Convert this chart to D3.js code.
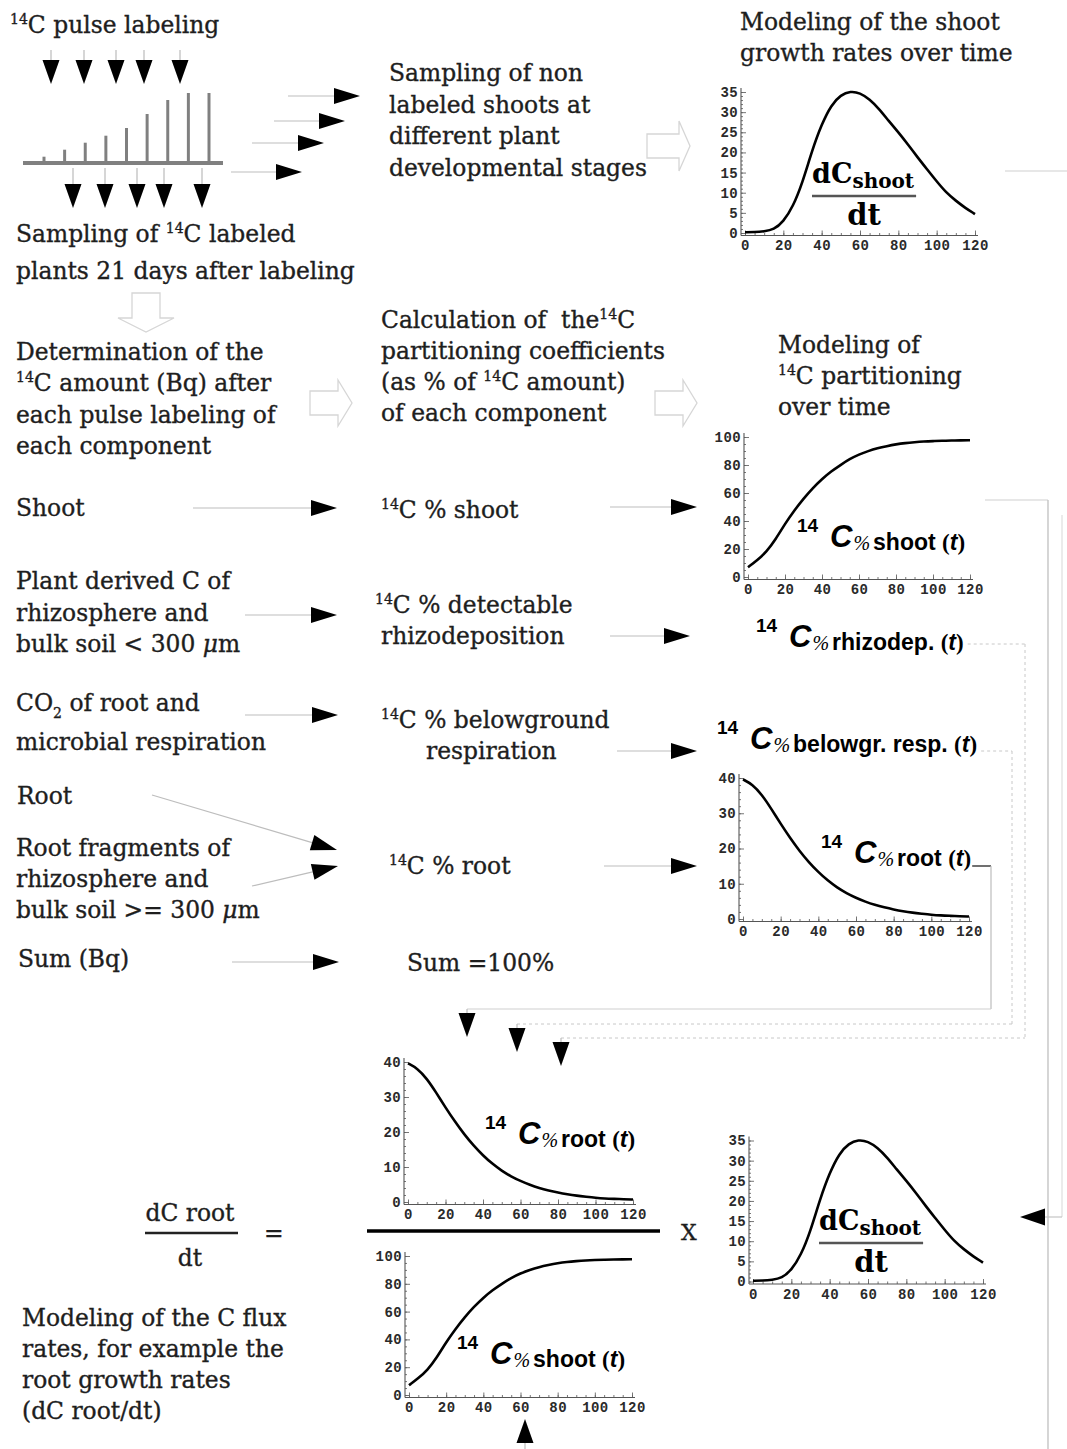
<!DOCTYPE html>
<html>
<head>
<meta charset="utf-8">
<script src="https://cdn.jsdelivr.net/npm/d3@7"></script>
<style>
  body { margin: 0; background: #fff; }
  svg { display: block; }
  text { white-space: pre; }
</style>
</head>
<body>
<script>
// ---- model curves: time in days, value sampled every 5 days ----
const days = d3.range(0, 121, 5);
// shoot growth rate dC_shoot/dt
const shootGrowthRate = [0.2, 0.2, 0.4, 0.8, 2.8, 6.5, 12.5, 20.5, 27, 31.8, 34.3, 35.2, 34.8,
                         33.2, 30.8, 27.8, 25, 22, 18.8, 15.8, 12.8, 10, 8, 6.2, 4.7];
// 14C partitioning to the shoot (%)
const shootPartition = [7, 12, 18, 27, 38, 47.5, 56, 63.5, 70, 75.5, 80, 84.3, 87.5,
                        90, 92, 93.5, 94.8, 95.7, 96.3, 96.8, 97.1, 97.3, 97.5, 97.6, 97.7];
// 14C partitioning to the root (%)
const rootPartition = [39.6, 38.2, 35.3, 31.3, 27, 23, 19.3, 16.1, 13.3, 10.9, 8.9, 7.3, 6,
                       4.9, 4, 3.3, 2.7, 2.2, 1.8, 1.5, 1.2, 1.0, 0.9, 0.8, 0.7];
// relative 14C signal of the successive pulse labelings (pictogram)
const pulseSignal = [0.9, 1.9, 2.9, 3.9, 5, 7, 9, 10, 10];

// ---- tick labels ----
const timeTicks = [0, 20, 40, 60, 80, 100, 120];
const growthTicks = [0, 5, 10, 15, 20, 25, 30, 35];
const partitionTicks = [0, 20, 40, 60, 80, 100];
const rootTicks = [0, 10, 20, 30, 40];

const W = 1067, H = 1449;
const SERIF = "'DejaVu Serif', serif";
const SANS = "'Liberation Sans', Arial, sans-serif";
const MONO = "'Liberation Mono', 'Courier New', monospace";
const INK = "#1e1e1e";

const svg = d3.select("body").append("svg").attr("width", W).attr("height", H);
svg.append("rect").attr("width", W).attr("height", H).attr("fill", "#fff");
const root = svg.append("g");

// ---------- text helpers ----------
function rich(x, y, segs, opts = {}) {
  const size = opts.size || 23.4;
  const t = root.append("text").attr("x", x).attr("y", y)
    .attr("font-family", opts.family || SERIF).attr("font-size", size)
    .attr("font-weight", opts.weight || "normal").attr("fill", opts.fill || INK)
    .attr("stroke", opts.fill || INK).attr("stroke-width", 0.35);
  let shift = 0;
  segs.forEach(s => {
    const seg = typeof s === "string" ? { t: s } : s;
    let target = 0, fs = size;
    if (seg.sup) { target = -size * 0.4; fs = size * 0.6; }
    if (seg.sub) { target = size * 0.32; fs = size * 0.6; }
    const sp = t.append("tspan").attr("dy", target - shift).attr("font-size", fs).text(seg.t);
    if (seg.it) sp.attr("font-style", "italic");
    shift = target;
  });
  return t;
}
function lines(x, y0, step, arr, opts) {
  arr.forEach((segs, i) => rich(x, y0 + i * step, segs, opts));
}

// ---------- arrows ----------
function arrow(x1, y1, x2, y2, opts = {}) {
  // thin grey stem ending in a solid black head at (x2, y2)
  const len = opts.head || 26, half = opts.half || 8;
  const a = Math.atan2(y2 - y1, x2 - x1);
  const bx = x2 - len * Math.cos(a), by = y2 - len * Math.sin(a);
  root.append("line").attr("x1", x1).attr("y1", y1).attr("x2", bx).attr("y2", by)
    .attr("stroke", opts.stem || "#bdbdbd").attr("stroke-width", 1.2)
    .attr("stroke-dasharray", opts.dash || null);
  const px = -Math.sin(a) * half, py = Math.cos(a) * half;
  root.append("path")
    .attr("d", `M${x2},${y2}L${bx + px},${by + py}L${bx - px},${by - py}Z`)
    .attr("fill", "#000");
}
function blockArrow(x, y, dir, bodyLen, bodyHalf, headLen, headHalf) {
  // hollow outline arrow; dir "right" or "down", (x,y) = tail centre
  let pts;
  if (dir === "right") {
    pts = [[x, y - bodyHalf], [x + bodyLen, y - bodyHalf], [x + bodyLen, y - headHalf],
           [x + bodyLen + headLen, y], [x + bodyLen, y + headHalf], [x + bodyLen, y + bodyHalf], [x, y + bodyHalf]];
  } else {
    pts = [[x - bodyHalf, y], [x - bodyHalf, y + bodyLen], [x - headHalf, y + bodyLen],
           [x, y + bodyLen + headLen], [x + headHalf, y + bodyLen], [x + bodyHalf, y + bodyLen], [x + bodyHalf, y]];
  }
  root.append("path").attr("d", d3.line()(pts) + "Z")
    .attr("fill", "none").attr("stroke", "#d6d6d6").attr("stroke-width", 1.3);
}
function rule(x1, y1, x2, y2, color = "#c4c4c4", w = 1.2, dash = null) {
  root.append("line").attr("x1", x1).attr("y1", y1).attr("x2", x2).attr("y2", y2)
    .attr("stroke", color).attr("stroke-width", w).attr("stroke-dasharray", dash);
}

// ---------- plot panels ----------
function panel(cfg) {
  const x = d3.scaleLinear().domain([0, 120]).range([cfg.x0, cfg.x1]);
  const y = d3.scaleLinear().domain([0, cfg.yMax]).range([cfg.yBase, cfg.yTop]);
  const axX = cfg.x0 - 4, axY = cfg.yBase + 2.5;
  const g = root.append("g");

  // minor ticks
  g.append("g").attr("transform", `translate(0,${axY})`)
    .call(d3.axisBottom(x).tickValues(d3.range(0, 121, 5)).tickSize(-2.5).tickFormat(""))
    .call(s => s.select(".domain").remove());
  g.append("g").attr("transform", `translate(${axX},0)`)
    .call(d3.axisLeft(y).tickValues(d3.range(0, cfg.yMax + 0.01, cfg.minor)).tickSize(-2).tickFormat(""))
    .call(s => s.select(".domain").remove());
  // major ticks + labels
  const bx = g.append("g").attr("transform", `translate(0,${axY})`)
    .call(d3.axisBottom(x).tickValues(timeTicks).tickSize(-5).tickPadding(5));
  const by = g.append("g").attr("transform", `translate(${axX},0)`)
    .call(d3.axisLeft(y).tickValues(cfg.ticks).tickSize(-5).tickPadding(3));
  [bx, by].forEach(a => {
    a.select(".domain").remove();
    a.selectAll("text").attr("font-family", MONO).attr("font-size", 14).attr("font-weight", "bold")
      .attr("letter-spacing", 0.4).attr("fill", "#2a2a2a");
  });
  g.selectAll(".tick line").attr("stroke", "#666").attr("stroke-width", 0.9);
  // axis lines
  g.append("line").attr("x1", axX).attr("x2", cfg.x1 + 3).attr("y1", axY).attr("y2", axY)
    .attr("stroke", "#555").attr("stroke-width", 1.1);
  g.append("line").attr("x1", axX).attr("x2", axX).attr("y1", axY).attr("y2", cfg.yTop - 4)
    .attr("stroke", "#555").attr("stroke-width", 1.1);

  g.append("path").datum(cfg.values)
    .attr("d", d3.line().x((d, i) => x(days[i])).y(d => y(d)).curve(d3.curveBasis))
    .attr("fill", "none").attr("stroke", "#000").attr("stroke-width", 2.6);
  return { x, y };
}

function fractionLabel(x, y) {
  // dC_shoot / dt ; (x, y) = left / baseline of "dC"
  const num = root.append("text").attr("x", x).attr("y", y)
    .attr("font-family", SERIF).attr("font-weight", "bold").attr("fill", "#000");
  num.append("tspan").attr("font-size", 27).text("dC");
  num.append("tspan").attr("font-size", 20).attr("dy", 5).text("shoot");
  const w = num.node().getComputedTextLength();
  root.append("line").attr("x1", x).attr("x2", x + w + 2).attr("y1", y + 13).attr("y2", y + 13)
    .attr("stroke", "#555").attr("stroke-width", 2.6);
  root.append("text").attr("x", x + (w + 2) / 2).attr("y", y + 42).attr("text-anchor", "middle")
    .attr("font-family", SERIF).attr("font-weight", "bold").attr("font-size", 29)
    .attr("fill", "#000").text("dt");
}

function partitionLabel(x, y, name) {
  // "14 C% name (t)" ; x = left of "14", y = baseline of the name
  root.append("text").attr("x", x).attr("y", y - 18).attr("font-family", SANS)
    .attr("font-weight", "bold").attr("font-size", 19).attr("fill", "#000").text("14");
  const c = root.append("text").attr("x", x + 33).attr("y", y - 3).attr("font-family", SANS)
    .attr("font-weight", "bold").attr("font-style", "italic").attr("font-size", 31)
    .attr("fill", "#000").text("C");
  let cx = x + 33 + c.node().getComputedTextLength() + 1;
  const pc = root.append("text").attr("x", cx).attr("y", y).attr("font-family", "'Liberation Serif', serif")
    .attr("font-style", "italic").attr("font-size", 20).attr("fill", "#000").text("%");
  cx += pc.node().getComputedTextLength() + 3;
  const nm = root.append("text").attr("x", cx).attr("y", y).attr("font-family", SANS)
    .attr("font-weight", "bold").attr("font-size", 23).attr("fill", "#000");
  nm.append("tspan").text(name + " ");
  nm.append("tspan").attr("font-family", "'Liberation Serif', serif").text("(");
  nm.append("tspan").attr("font-style", "italic").text("t");
  nm.append("tspan").attr("font-family", "'Liberation Serif', serif").text(")");
  return cx + nm.node().getComputedTextLength();
}

// ================= top left: pulse labelling pictogram =================
rich(10, 33, [{ t: "14", sup: true }, "C pulse labeling"]);
[51, 84, 116, 144, 180].forEach(cx => arrow(cx, 50, cx, 84, { head: 24, half: 8.5, stem: "#bbb" }));
const pulseX = d3.scalePoint().domain(d3.range(pulseSignal.length)).range([44, 209]);
const pulseY = d3.scaleLinear().domain([0, 10]).range([163, 93]);
root.append("g").selectAll("line").data(pulseSignal).join("line")
  .attr("x1", (d, i) => pulseX(i)).attr("x2", (d, i) => pulseX(i))
  .attr("y1", 163).attr("y2", d => pulseY(d))
  .attr("stroke", "#808080").attr("stroke-width", 3);
rule(23, 163, 223, 163, "#808080", 4);
[73, 105, 137, 164, 202].forEach(cx => arrow(cx, 168, cx, 208, { head: 24, half: 8.5, stem: "#bbb" }));
rich(16, 242, ["Sampling of ", { t: "14", sup: true }, "C labeled"]);
rich(16, 279, ["plants 21 days after labeling"]);

arrow(288, 96, 360, 96);
arrow(274, 121, 345, 121);
arrow(252, 143, 324, 143);
arrow(231, 172, 302, 172);

lines(389, 81, 31.7, [["Sampling of non"], ["labeled shoots at"], ["different plant"], ["developmental stages"]]);
blockArrow(647, 146, "right", 32, 12, 11, 25);

lines(740, 30, 31, [["Modeling of the shoot"], ["growth rates over time"]]);
panel({ x0: 745, x1: 975, yBase: 233, yTop: 92, yMax: 35, ticks: growthTicks, minor: 1, values: shootGrowthRate });
fractionLabel(812, 183);
rule(1005, 171, 1067, 171, "#cfcfcf");

// ================= second band =================
blockArrow(146, 293, "down", 25, 14, 14, 28);
lines(16, 360, 31.3, [["Determination of the"], [{ t: "14", sup: true }, "C amount (Bq) after"],
  ["each pulse labeling of"], ["each component"]]);
blockArrow(310, 403, "right", 28, 12, 14, 23);
lines(381, 328, 31, [["Calculation of  the", { t: "14", sup: true }, "C"], ["partitioning coefficients"],
  ["(as % of ", { t: "14", sup: true }, "C amount)"], ["of each component"]]);
blockArrow(655, 403, "right", 28, 12, 14, 23);
lines(778, 353, 31, [["Modeling of"], [{ t: "14", sup: true }, "C partitioning"], ["over time"]]);

// ================= components =================
rich(16, 516, ["Shoot"]);
lines(16, 589, 31.5, [["Plant derived C of"], ["rhizosphere and"], ["bulk soil < 300 ", { t: "\u03bc", it: true }, "m"]]);
rich(16, 711, ["CO", { t: "2", sub: true }, " of root and"]);
rich(16, 750, ["microbial respiration"]);
rich(17, 804, ["Root"]);
lines(16, 856, 31, [["Root fragments of"], ["rhizosphere and"], ["bulk soil >= 300 ", { t: "\u03bc", it: true }, "m"]]);
rich(18, 967, ["Sum (Bq)"]);

arrow(193, 508, 337, 508);
arrow(245, 615, 337, 615);
arrow(245, 715, 338, 715);
arrow(152, 795, 337, 850);
arrow(252, 886, 338, 866);
arrow(232, 962, 339, 962);

rich(381, 518, [{ t: "14", sup: true }, "C % shoot"]);
rich(375, 613, [{ t: "14", sup: true }, "C % detectable"]);
rich(381, 644, ["rhizodeposition"]);
rich(381, 728, [{ t: "14", sup: true }, "C % belowground"]);
rich(426, 759, ["respiration"]);
rich(389, 874, [{ t: "14", sup: true }, "C % root"]);
rich(407, 971, ["Sum =100%"]);

arrow(610, 507, 697, 507);
arrow(610, 636, 690, 636);
arrow(617, 751, 697, 751);
arrow(604, 866, 697, 866);

// ================= partitioning models =================
panel({ x0: 748, x1: 970, yBase: 577, yTop: 437, yMax: 100, ticks: partitionTicks, minor: 5, values: shootPartition });
partitionLabel(797, 550, "shoot");
const rhizEnd = partitionLabel(756, 650, "rhizodep.");
const respEnd = partitionLabel(717, 752, "belowgr. resp.");
panel({ x0: 743, x1: 969, yBase: 919, yTop: 778, yMax: 40, ticks: rootTicks, minor: 2, values: rootPartition });
const rootEnd = partitionLabel(821, 866, "root");

// connectors from the partition models to the flux calculation
rule(rhizEnd + 4, 644, 1025, 644, "#c8c8c8", 1, "3,3");
rule(1025, 644, 1025, 1038, "#c8c8c8", 1, "3,3");
rule(561, 1038, 1025, 1038, "#c8c8c8", 1, "3,3");
rule(respEnd + 4, 751, 1012, 751, "#c8c8c8", 1, "3,3");
rule(1012, 751, 1012, 1024, "#c8c8c8", 1, "3,3");
rule(517, 1024, 1012, 1024, "#c8c8c8", 1, "3,3");
rule(rootEnd + 1, 866, 991, 866, "#222", 1.3);
rule(991, 866, 991, 1009, "#bdbdbd", 1.2);
rule(467, 1009, 991, 1009, "#cfcfcf", 1.2);
arrow(467, 1009, 467, 1037, { head: 24, half: 8.5 });
arrow(517, 1024, 517, 1052, { head: 24, half: 8.5 });
arrow(561, 1038, 561, 1066, { head: 24, half: 8.5 });

// shoot partition model feeds the growth-rate term at the bottom right
rule(985, 500, 1048, 500, "#cfcfcf", 1.2);
rule(1048, 500, 1048, 1449, "#c4c4c4", 1.4);
rule(1062, 515, 1062, 1217, "#dadada", 1.1);
rule(1045, 1217, 1062, 1217, "#c4c4c4", 1.2);
arrow(1045, 1217, 1020, 1217, { head: 25, half: 8.5 });

// ================= C flux calculation =================
panel({ x0: 408, x1: 633, yBase: 1202, yTop: 1062, yMax: 40, ticks: rootTicks, minor: 2, values: rootPartition });
partitionLabel(485, 1147, "root");
rule(367, 1231, 660, 1231, "#000", 3.5);
panel({ x0: 409, x1: 632, yBase: 1395, yTop: 1256, yMax: 100, ticks: partitionTicks, minor: 5, values: shootPartition });
partitionLabel(457, 1367, "shoot");
rich(681, 1240, ["X"], { size: 22 });
panel({ x0: 753, x1: 983, yBase: 1281.5, yTop: 1140.5, yMax: 35, ticks: growthTicks, minor: 1, values: shootGrowthRate });
fractionLabel(819, 1230);
arrow(525, 1449, 525, 1419, { head: 24, half: 8.5 });

// left-hand side of the flux equation
rich(190, 1221, ["dC root"]).attr("text-anchor", "middle");
rule(145, 1233, 238, 1233, "#222", 2.5);
rich(190, 1266, ["dt"]).attr("text-anchor", "middle");
rich(264, 1241, ["="]);
lines(22, 1326, 31, [["Modeling of the C flux"], ["rates, for example the"], ["root growth rates"], ["(dC root/dt)"]]);
</script>
</body>
</html>
